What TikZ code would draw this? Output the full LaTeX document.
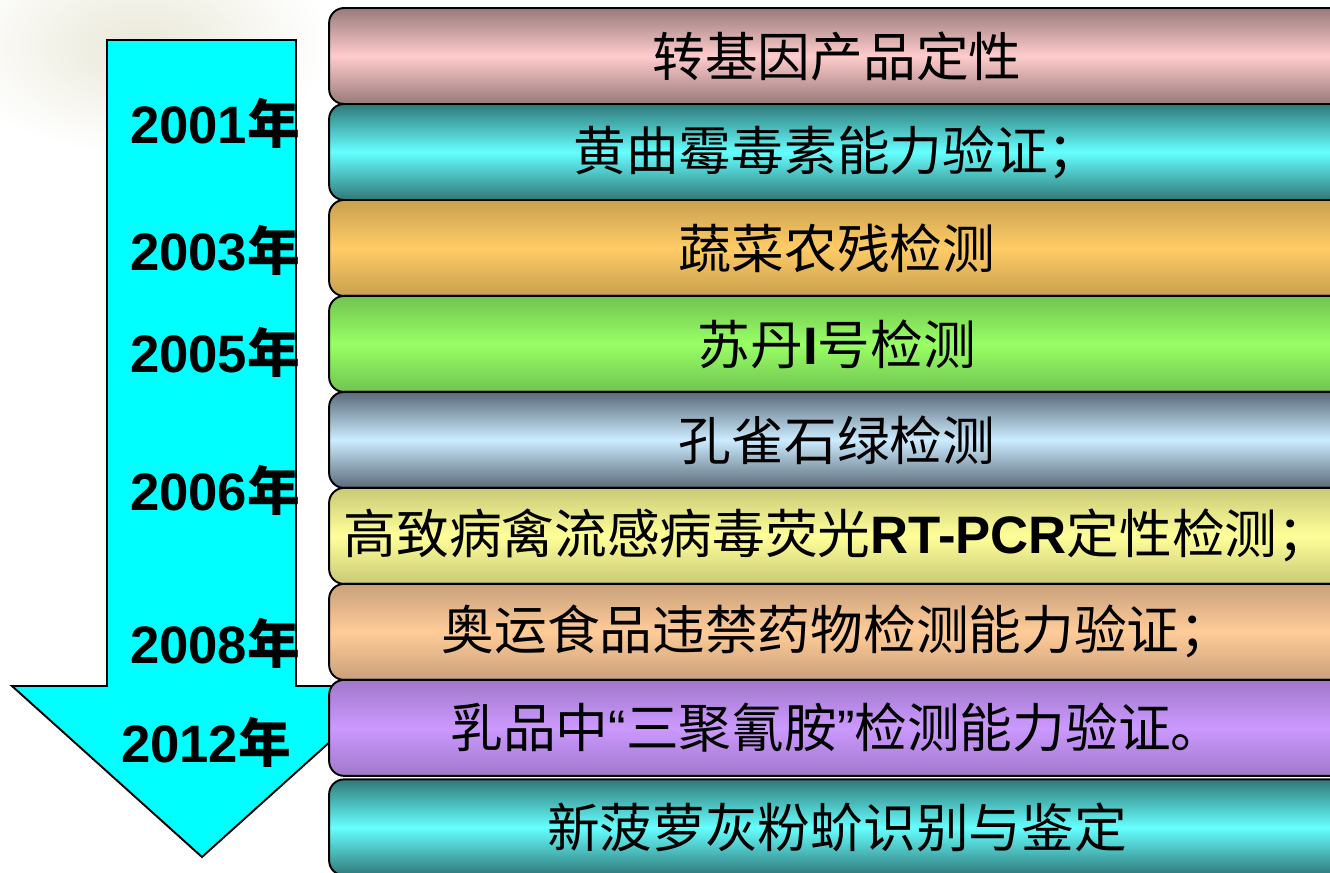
\documentclass[tikz,border=0pt]{standalone}
\usepackage{fontspec}
\setmainfont{Liberation Sans}
\newfontfamily\cjk{Noto Sans CJK SC}
\usetikzlibrary{positioning}

\definecolor{pinkM}{HTML}{FFCCCC}   \definecolor{pinkE}{HTML}{997A7A}
\definecolor{cyanM}{HTML}{66FFFF}   \definecolor{cyanE}{HTML}{307878}
\definecolor{orangeM}{HTML}{FFCC66} \definecolor{orangeE}{HTML}{C9A04F}
\definecolor{greenM}{HTML}{99FF66}  \definecolor{greenE}{HTML}{70C450}
\definecolor{blueM}{HTML}{CCECFF}   \definecolor{blueE}{HTML}{5A6A78}
\definecolor{yellowM}{HTML}{FFFF99} \definecolor{yellowE}{HTML}{C9C978}
\definecolor{peachM}{HTML}{FFCC99}  \definecolor{peachE}{HTML}{C9A07A}
\definecolor{purpleM}{HTML}{CC99FF} \definecolor{purpleE}{HTML}{A078C9}
\definecolor{arrowcyan}{HTML}{00FFFF}
\definecolor{bgtan}{HTML}{EAE8D8}

\begin{document}
\begin{tikzpicture}[x=0.02cm, y=-0.02cm,
    item/.style={draw=black, line width=1.1pt, rounded corners=0.3cm,
      minimum width=20.32cm, minimum height=1.92cm, inner sep=0pt, outer sep=0pt,
      font=\cjk\fontsize{30}{34}\selectfont},
    tint/.style 2 args={top color=#1, bottom color=#1, middle color=#2},
    year/.style={inner sep=0pt, font=\rmfamily\bfseries\fontsize{30}{34}\selectfont},
    timeline/.style={draw=black, line width=1.1pt, fill=arrowcyan}]
  \useasboundingbox (0,0) rectangle (1330,873);
  \clip (0,0) rectangle (1330,873);
  \fill[white] (0,0) rectangle (1330,873);
  \shade[inner color=bgtan, outer color=white] (140,45) ellipse (190 and 110);

  % timeline arrow
  \draw[timeline] (107,40) -- (296,40) -- (296,686) -- (392,686) -- (202,857)
    -- (12,686) -- (107,686) -- cycle;

  \node[year] (y2001) at (215,123) {2001{\cjk 年}};
  \node[year] (y2003) at (215,250) {2003{\cjk 年}};
  \node[year] (y2005) at (215,352) {2005{\cjk 年}};
  \node[year] (y2006) at (215,490) {2006{\cjk 年}};
  \node[year] (y2008) at (215,643) {2008{\cjk 年}};
  \node[year] (y2012) at (206,742) {2012{\cjk 年}};

  % stacked items
  \node[item, tint={pinkE}{pinkM}] (gmo) at (837,56) {转基因产品定性};
  \node[item, tint={cyanE}{cyanM}, below=0pt of gmo] (afla) {黄曲霉毒素能力验证；};
  \node[item, tint={orangeE}{orangeM}, below=0pt of afla] (veg) {蔬菜农残检测};
  \node[item, tint={greenE}{greenM}, below=0pt of veg] (sudan) {苏丹{\rmfamily\bfseries I}号检测};
  \node[item, tint={blueE}{blueM}, below=0pt of sudan] (malach) {孔雀石绿检测};
  \node[item, tint={yellowE}{yellowM}, below=0pt of malach] (flu) {高致病禽流感病毒荧光{\rmfamily\bfseries RT-PCR}定性检测；};
  \node[item, tint={peachE}{peachM}, below=0pt of flu] (olymp) {奥运食品违禁药物检测能力验证；};
  \node[item, tint={purpleE}{purpleM}, below=0pt of olymp] (milk) {乳品中{\rmfamily “}三聚氰胺{\rmfamily ”}检测能力验证。};
  \node[item, tint={cyanE}{cyanM}, below=2pt of milk] (mite) {新菠萝灰粉蚧识别与鉴定};
\end{tikzpicture}
\end{document}
